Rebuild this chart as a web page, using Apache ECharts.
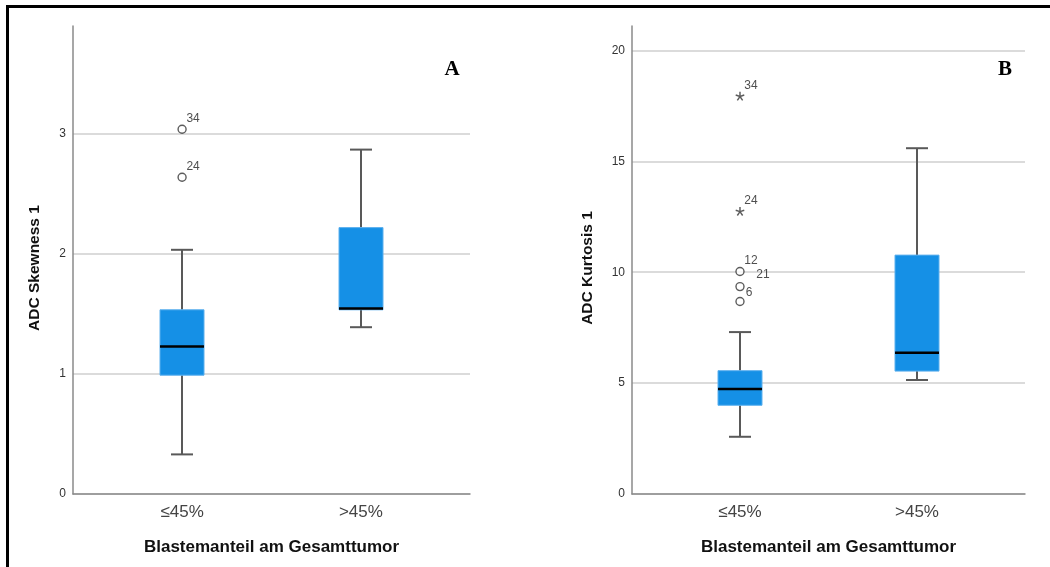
<!DOCTYPE html>
<html>
<head>
<meta charset="utf-8">
<script src="https://cdn.jsdelivr.net/npm/echarts@6.0.0/dist/echarts.min.js"></script>
<style>
html,body{margin:0;padding:0;background:#fff;}
#chart{width:1050px;height:567px;}
</style>
</head>
<body>
<div id="chart"></div>
<script>
// ---- data ----
const categories = ['≤45%', '>45%'];
const xTitle = 'Blastemanteil am Gesamttumor';
const skewTitle = 'ADC Skewness 1';
const kurtTitle = 'ADC Kurtosis 1';
const skewTicks = [0, 1, 2, 3];
const kurtTicks = [0, 5, 10, 15, 20];
// [min, Q1, median, Q3, max] per category
const skewBox = [[0.33, 0.99, 1.23, 1.535, 2.035], [1.39, 1.535, 1.545, 2.22, 2.87]];
const kurtBox = [[2.58, 4.00, 4.73, 5.56, 7.30], [5.14, 5.54, 6.37, 10.77, 15.59]];
// outliers: [category index, value, case label]
const skewOutliers = [[0, 3.04, '34'], [0, 2.64, '24']];
const kurtOutliers = [[0, 10.03, '12'], [0, 9.35, '21'], [0, 8.68, '6']];
const kurtExtremes = [[0, 17.93, '34'], [0, 12.74, '24']];

// ---- styles ----
const labelShift = { '21': [23, -12], '6': [9, -9] };
const defaultShift = [11, -11];
const FONT = 'Liberation Sans, Arial, sans-serif';

function boxData(box) {
  return box.map((b, i) => [i].concat(b));
}

function renderBox(params, api) {
  const x = api.value(0);
  const lo = api.coord([x, api.value(1)]);
  const q1 = api.coord([x, api.value(2)]);
  const md = api.coord([x, api.value(3)]);
  const q3 = api.coord([x, api.value(4)]);
  const hi = api.coord([x, api.value(5)]);
  const cx = Math.round(lo[0]);
  const bw = 44, cw = 22;
  const wStyle = { stroke: '#595959', lineWidth: 2 };
  return {
    type: 'group',
    children: [
      { type: 'line', shape: { x1: cx, y1: hi[1], x2: cx, y2: q3[1] }, style: wStyle },
      { type: 'line', shape: { x1: cx, y1: q1[1], x2: cx, y2: lo[1] }, style: wStyle },
      { type: 'line', shape: { x1: cx - cw / 2, y1: hi[1], x2: cx + cw / 2, y2: hi[1] }, style: wStyle },
      { type: 'line', shape: { x1: cx - cw / 2, y1: lo[1], x2: cx + cw / 2, y2: lo[1] }, style: wStyle },
      { type: 'rect', shape: { x: cx - bw / 2, y: q3[1], width: bw, height: q1[1] - q3[1] },
        style: { fill: '#1590E6', stroke: '#5DB0EE', lineWidth: 1 } },
      { type: 'line', shape: { x1: cx - bw / 2, y1: md[1], x2: cx + bw / 2, y2: md[1] },
        style: { stroke: '#000', lineWidth: 2.5 } }
    ]
  };
}

// asterisk symbol path
function asteriskPath() {
  let d = '';
  const w = 0.16;
  for (let k = 0; k < 5; k++) {
    const a = (-90 + k * 72) * Math.PI / 180;
    const ux = Math.cos(a), uy = Math.sin(a);
    const px = -uy * w, py = ux * w;
    const pts = [[px, py], [ux + px, uy + py], [ux - px, uy - py], [-px, -py]];
    d += 'M' + pts.map(p => (p[0] * 10).toFixed(3) + ' ' + (p[1] * 10).toFixed(3)).join(' L') + ' Z ';
  }
  return 'path://' + d;
}

function outlierSeries(points, axisIdx, symbol, filled) {
  return {
    type: 'scatter',
    xAxisIndex: axisIdx, yAxisIndex: axisIdx,
    symbol: symbol,
    symbolSize: filled ? 9 : 8,
    itemStyle: filled ? { color: '#333' } : { color: '#fff', borderColor: '#333', borderWidth: 1.4 },
    z: 5,
    data: points.map(p => ({
      value: [p[0], p[1]],
      label: {
        show: true,
        formatter: p[2],
        position: 'inside',
        offset: labelShift[p[2]] || defaultShift,
        fontSize: 12,
        color: '#222',
        fontFamily: FONT
      }
    }))
  };
}

function xAxisCfg(idx) {
  return {
    type: 'value', gridIndex: idx, min: -0.61, max: 1.61,
    name: xTitle, nameLocation: 'middle', nameGap: 45,
    nameTextStyle: { fontSize: 17, fontWeight: 'bold', color: '#111', fontFamily: FONT },
    axisLine: { show: true, onZero: false, lineStyle: { color: '#8a8a8a', width: 1.5 } },
    axisTick: { show: false, customValues: [0, 1] },
    splitLine: { show: false },
    axisLabel: {
      customValues: [0, 1], margin: 10, fontSize: 17, color: '#444',
      fontFamily: FONT,
      formatter: v => categories[Math.round(v)]
    }
  };
}

function yAxisCfg(idx, max, ticks, title, gap) {
  return {
    type: 'value', gridIndex: idx, min: 0, max: max,
    name: title, nameLocation: 'middle', nameGap: gap,
    nameTextStyle: { fontSize: 15.5, fontWeight: 'bold', color: '#111', padding: [0, 16, 0, 0],
      fontFamily: FONT },
    axisLine: { show: true, onZero: false, lineStyle: { color: '#8a8a8a', width: 1.5 } },
    axisTick: { show: false, customValues: ticks },
    splitLine: { show: true, lineStyle: { color: '#cfcfcf', width: 1.5 } },
    axisLabel: { customValues: ticks, margin: 7, fontSize: 12, color: '#333', fontFamily: FONT }
  };
}

const chart = echarts.init(document.getElementById('chart'), null, { renderer: 'canvas' });
chart.setOption({
  animation: false,
  backgroundColor: '#fff',
  grid: [
    { left: 73, top: 26, width: 397, height: 468 },
    { left: 632, top: 26, width: 393, height: 468 }
  ],
  xAxis: [xAxisCfg(0), xAxisCfg(1)],
  yAxis: [yAxisCfg(0, 3.9, skewTicks, skewTitle, 30), yAxisCfg(1, 21.1, kurtTicks, kurtTitle, 36)],
  series: [
    { type: 'custom', xAxisIndex: 0, yAxisIndex: 0, renderItem: renderBox,
      encode: { x: 0, y: [1, 2, 3, 4, 5] }, data: boxData(skewBox), z: 3 },
    { type: 'custom', xAxisIndex: 1, yAxisIndex: 1, renderItem: renderBox,
      encode: { x: 0, y: [1, 2, 3, 4, 5] }, data: boxData(kurtBox), z: 3 },
    outlierSeries(skewOutliers, 0, 'circle', false),
    outlierSeries(kurtOutliers, 1, 'circle', false),
    outlierSeries(kurtExtremes, 1, asteriskPath(), true)
  ],
  graphic: [
    { type: 'rect', shape: { x: 7.5, y: 6.5, width: 1100, height: 700 },
      style: { fill: 'none', stroke: '#000', lineWidth: 3 }, z: 100 },
    { type: 'text', x: 452, y: 70, style: { text: 'A', font: 'bold 21px "Liberation Serif", "Times New Roman", serif',
      fill: '#000', textAlign: 'center', textVerticalAlign: 'middle' } },
    { type: 'text', x: 1005, y: 70, style: { text: 'B', font: 'bold 21px "Liberation Serif", "Times New Roman", serif',
      fill: '#000', textAlign: 'center', textVerticalAlign: 'middle' } }
  ]
});
</script>
</body>
</html>
